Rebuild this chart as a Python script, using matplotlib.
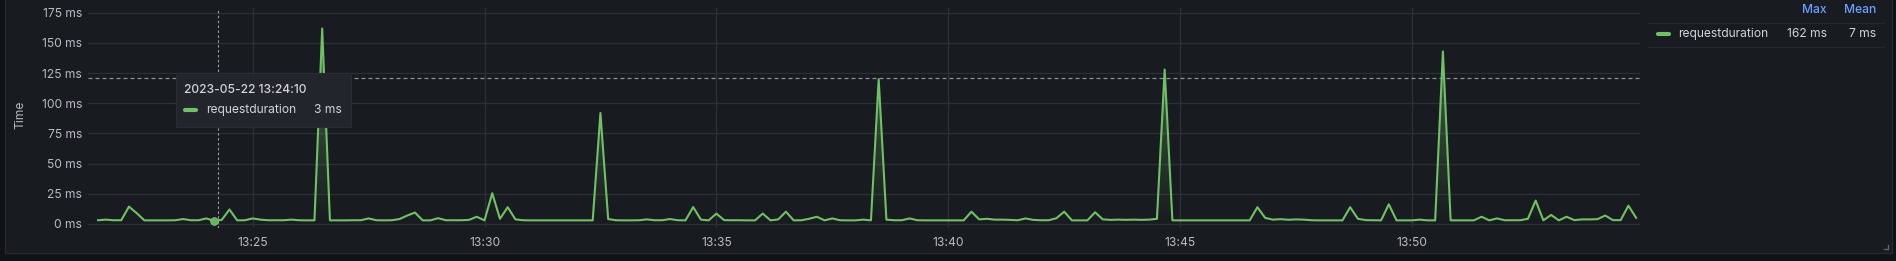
import numpy as np
import pandas as pd
import matplotlib
matplotlib.use("Agg")
import matplotlib.pyplot as plt
import matplotlib.dates as mdates
from matplotlib.patches import Rectangle
from matplotlib.lines import Line2D
from matplotlib.ticker import FuncFormatter, FixedLocator

# ---------------- data ----------------
start_time = "2023-05-22 13:21:40"
step = "10s"
series_name = "requestduration"
request_ms = [
    3.1, 3.6, 3.1, 3.1, 14.4, 9, 3.0, 3.0, 3.0, 3.0,
    3.1, 4.1, 3.1, 3.1, 4.6, 2.7, 3.4, 12, 3.0, 3.1,
    4.6, 3.6, 3.1, 3.1, 3.1, 3.6, 3.1, 3.0, 3.0, 162,
    3.0, 3.0, 3.0, 3.1, 3.1, 4.6, 3.1, 3.0, 3.1, 4.1,
    7, 9.5, 3.0, 3.0, 4.8, 3.1, 3.1, 3.1, 3.4, 6,
    3.0, 25.5, 4.3, 13.9, 3.8, 3.1, 3.0, 3.0, 3.0, 3.0,
    3.0, 3.0, 3.0, 3.0, 3.0, 92, 4.1, 3.1, 3.0, 3.0,
    3.1, 3.8, 3.1, 3.1, 4.1, 3.1, 3.0, 14, 3.6, 3.0,
    8.6, 3.2, 3.1, 3.1, 3.0, 3.0, 8.6, 3.0, 3.8, 10.2,
    3.0, 3.1, 4.3, 6, 3.0, 4.6, 3.1, 3.0, 3.0, 3.6,
    3.0, 120, 3.6, 3.1, 3.1, 4.6, 3.1, 3.0, 3.0, 3.0,
    3.0, 3.0, 3.0, 10.2, 3.8, 4.3, 3.6, 3.6, 3.4, 3.1,
    4.6, 3.4, 3.1, 3.1, 4.8, 10.2, 3.0, 3.0, 3.0, 9.7,
    3.8, 3.4, 3.6, 3.4, 3.6, 3.4, 3.6, 4.3, 128, 3.0,
    3.0, 3.0, 3.0, 3.0, 3.0, 3.0, 3.0, 3.0, 3.0, 3.0,
    13.9, 5.1, 3.6, 4.0, 3.5, 3.8, 3.6, 3.1, 3.0, 3.0,
    3.0, 3.0, 13.9, 4.3, 3.2, 3.1, 3.0, 16.3, 3.0, 3.0,
    3.0, 3.6, 3.0, 3.0, 143, 3.0, 3.0, 3.0, 3.0, 6,
    3.0, 4.6, 3.1, 3.1, 3.1, 4.3, 19.4, 3.0, 7.5, 3.0,
    6, 3.2, 3.8, 3.8, 4.0, 7, 3.2, 3.2, 15.2, 5.1,
]
threshold_ms = 121
cursor_time = "2023-05-22 13:24:15"
view_start = "2023-05-22 13:21:27"
view_end = "2023-05-22 13:54:55"
y_ticks = [0, 25, 50, 75, 100, 125, 150, 175]
x_tick_every_min = 5
legend_headers = ["Max", "Mean"]

times = pd.date_range(start_time, periods=len(request_ms), freq=step)
values = np.array(request_ms, dtype=float)

# ---------------- style ----------------
plt.rcParams["font.family"] = ["Inter", "DejaVu Sans"]
FS = 8.7
GREEN = "#73bf69"
TXT = "#b9bac2"
TXT_BRIGHT = "#d2d3da"
GRID = "#2c2f35"
BLUE = "#6e9fff"

W, H = 1896, 261
fig = plt.figure(figsize=(W / 100, H / 100), dpi=100)
fig.patch.set_facecolor("#111217")


def fx(px):
    return px / W


def fy(py):
    return 1 - py / H


# panel background
fig.patches.append(Rectangle((fx(5), fy(253)), fx(1892 - 5), (253 + 10) / H,
                             transform=fig.transFigure, fc="#181b1f",
                             ec="#26292f", lw=1, zorder=-5))

# ---------------- axes ----------------
ax_top, ax_bot = 8.0, 227.6
ax = fig.add_axes([fx(88), fy(ax_bot), fx(1640 - 88), (ax_bot - ax_top) / H])
ax.set_facecolor("none")
for s in ax.spines.values():
    s.set_visible(False)

ax.plot(times, values, color=GREEN, lw=1.5, zorder=4, solid_joinstyle="round")

# gradient fill under the line
fill = ax.fill_between(times, values, 0, color="none", lw=0)
path = fill.get_paths()[0]
ymax_view = 179
grad = np.linspace(0, 1, 256)
rgba = np.zeros((256, 1, 4))
rgba[:, 0, 0] = 0x73 / 255
rgba[:, 0, 1] = 0xbf / 255
rgba[:, 0, 2] = 0x69 / 255
rgba[:, 0, 3] = grad * 0.55
x0n = mdates.date2num(times[0])
x1n = mdates.date2num(times[-1])
im = ax.imshow(rgba, extent=[x0n, x1n, 0, ymax_view], origin="lower",
               aspect="auto", zorder=3, interpolation="bilinear")
im.set_clip_path(path, transform=ax.transData)

ax.set_xlim(pd.Timestamp(view_start), pd.Timestamp(view_end))
ax.set_ylim(-3, ymax_view)

ax.yaxis.set_major_locator(FixedLocator(y_ticks))
ax.yaxis.set_major_formatter(FuncFormatter(lambda v, p: f"{int(v)} ms"))
ax.xaxis.set_major_locator(mdates.MinuteLocator(byminute=range(0, 60, x_tick_every_min)))
ax.xaxis.set_major_formatter(mdates.DateFormatter("%H:%M"))
ax.tick_params(axis="both", length=0, colors=TXT, labelsize=FS)
ax.tick_params(axis="y", pad=4.3)
ax.tick_params(axis="x", pad=6.5)
ax.grid(True, color=GRID, lw=1, zorder=0)
ax.set_axisbelow(True)

# threshold
ax.axhline(threshold_ms, color="#8f9198", lw=0.9, ls=(0, (3.2, 2.4)), zorder=2)

# cursor crosshair + hovered point
cursor = pd.Timestamp(cursor_time)
idx = int(np.argmin(np.abs((times - cursor).total_seconds())))
ax.axvline(cursor, color="#9a9da4", lw=0.8, ls=(0, (2.2, 2.2)), zorder=5)
ax.plot([times[idx]], [values[idx]], "o", ms=5.5, color="#6aae61",
        mec="#7fc676", mew=0.6, zorder=6)

# y label
fig.text(fx(20), fy(115), "Time", rotation=90, ha="center", va="center",
         fontsize=FS, color=TXT)

# ---------------- tooltip ----------------
fig.patches.append(Rectangle((fx(176), fy(127)), fx(351 - 176), (127 - 73) / H,
                             transform=fig.transFigure, fc="#22252b",
                             ec="#2a2d33", lw=0.8, zorder=20))
fig.text(fx(184), fy(90), times[idx].strftime("%Y-%m-%d %H:%M:%S"),
         ha="left", va="center", fontsize=FS, color=TXT_BRIGHT,
         weight="medium", zorder=21)
fig.lines.append(Line2D([fx(185), fx(196)], [fy(110), fy(110)],
                        transform=fig.transFigure, color=GREEN, lw=3,
                        solid_capstyle="round", zorder=21))
fig.text(fx(206), fy(110), series_name, ha="left", va="center",
         fontsize=FS, color=TXT_BRIGHT, zorder=21)
fig.text(fx(342), fy(110), f"{int(round(values[idx]))} ms", ha="right",
         va="center", fontsize=FS, color=TXT_BRIGHT, zorder=21)

# ---------------- legend ----------------
max_v = int(round(values.max()))
mean_v = int(round(values.mean()))
fig.text(fx(1827), fy(10), legend_headers[0], ha="right", va="center",
         fontsize=FS, color=BLUE, weight="medium")
fig.text(fx(1876), fy(10), legend_headers[1], ha="right", va="center",
         fontsize=FS, color=BLUE, weight="medium")
for yy in (22.7, 46.7):
    fig.lines.append(Line2D([fx(1648), fx(1884)], [fy(yy), fy(yy)],
                            transform=fig.transFigure, color="#25282e", lw=1))
fig.lines.append(Line2D([fx(1658), fx(1669)], [fy(33.7), fy(33.7)],
                        transform=fig.transFigure, color=GREEN, lw=3,
                        solid_capstyle="round"))
fig.text(fx(1678), fy(33.7), series_name, ha="left", va="center",
         fontsize=FS, color=TXT_BRIGHT)
fig.text(fx(1827), fy(33.7), f"{max_v} ms", ha="right", va="center",
         fontsize=FS, color=TXT_BRIGHT)
fig.text(fx(1876), fy(33.7), f"{mean_v} ms", ha="right", va="center",
         fontsize=FS, color=TXT_BRIGHT)

# resize handle
fig.lines.append(Line2D([fx(1884), fx(1888), fx(1888)], [fy(248.5), fy(248.5), fy(244.5)],
                        transform=fig.transFigure, color="#60636a", lw=1))

fig.savefig("out.png", dpi=100, facecolor=fig.get_facecolor())
